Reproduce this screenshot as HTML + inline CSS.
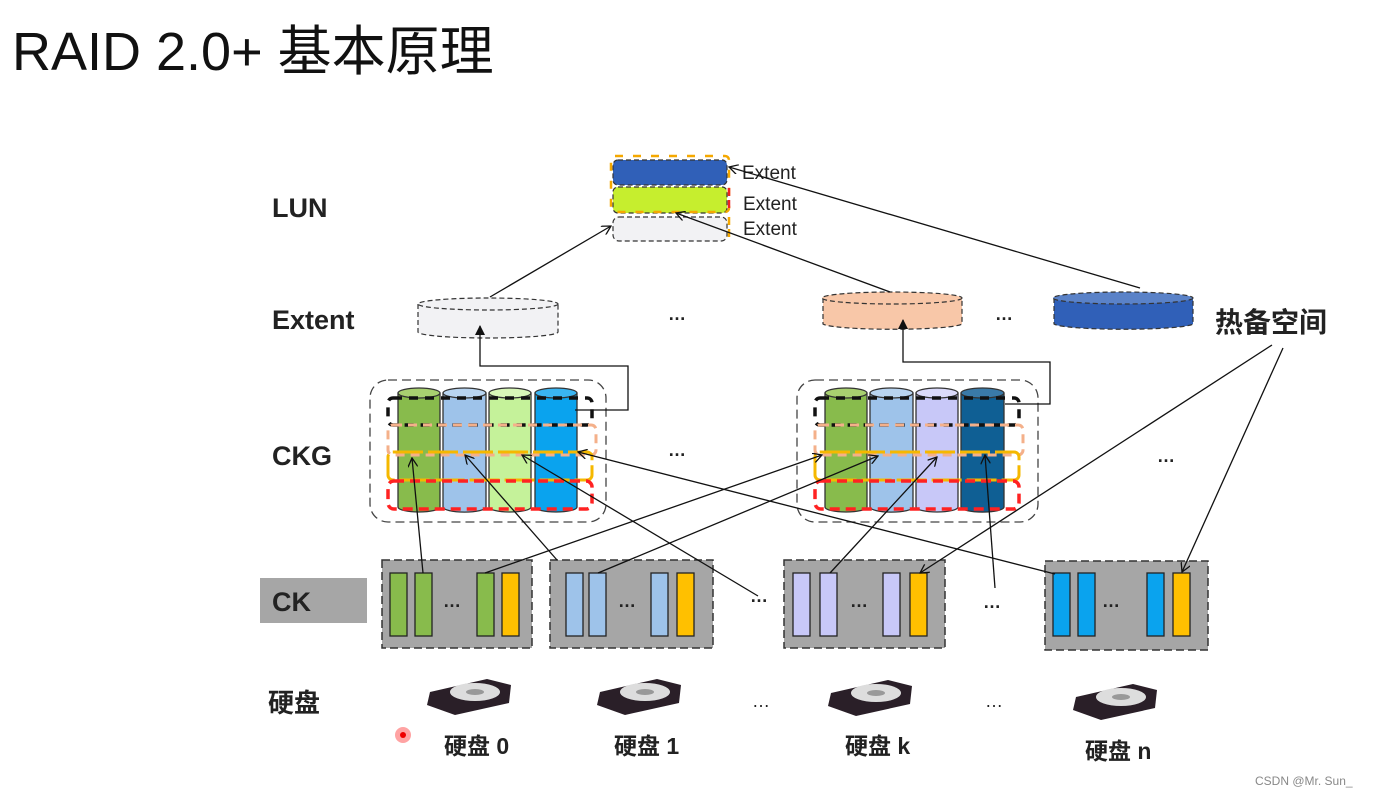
<!DOCTYPE html>
<html><head><meta charset="utf-8"><style>
html,body{margin:0;padding:0;background:#fff;}
svg{display:block;}
text{font-family:"Liberation Sans","Noto Sans CJK SC",sans-serif;fill:#222;}
.b{font-weight:bold;}
</style></head><body>
<svg width="1377" height="796" viewBox="0 0 1377 796" xmlns="http://www.w3.org/2000/svg">
<defs>
<marker id="oa" viewBox="0 0 10 10" refX="9" refY="5" markerWidth="10" markerHeight="10" orient="auto" markerUnits="userSpaceOnUse"><path d="M0,0 L9,5 L0,10" fill="none" stroke="#111" stroke-width="1.3"/></marker>
<marker id="fa" viewBox="0 0 10 10" refX="9" refY="5" markerWidth="10" markerHeight="10" orient="auto" markerUnits="userSpaceOnUse"><path d="M0,0 L10,5 L0,10 z" fill="#111"/></marker>
</defs>
<text x="12" y="70" font-size="54" style="fill:#111">RAID 2.0+ 基本原理</text>

<text x="272" y="217" font-size="27" class="b">LUN</text>
<text x="272" y="329" font-size="27" class="b">Extent</text>
<text x="272" y="465" font-size="27" class="b">CKG</text>
<rect x="260" y="578" width="107" height="45" fill="#a6a6a6"/>
<text x="272" y="611" font-size="27" class="b">CK</text>
<text x="268" y="712" font-size="26" class="b">硬盘</text>

<!-- LUN stack -->
<rect x="613" y="217" width="114" height="24" rx="6" fill="#f2f2f4" stroke="#333" stroke-dasharray="5,3" stroke-width="1.2"/>
<rect x="613" y="187" width="114" height="26" rx="5" fill="#c6ee2e" stroke="#333" stroke-dasharray="5,3" stroke-width="1.2"/>
<rect x="613" y="160" width="114" height="25" rx="5" fill="#3060b8" stroke="#333" stroke-dasharray="5,3" stroke-width="1.2"/>
<rect x="611" y="156" width="118" height="56" rx="4" fill="none" stroke="#f5a800" stroke-dasharray="8,10" stroke-width="2.5"/>
<line x1="729" y1="188" x2="729" y2="212" stroke="#e22" stroke-width="2.5" stroke-dasharray="8,4"/>
<line x1="729" y1="217" x2="729" y2="240" stroke="#f5a800" stroke-width="2.5" stroke-dasharray="8,4"/>
<text x="742" y="179" font-size="19">Extent</text>
<text x="743" y="210" font-size="19">Extent</text>
<text x="743" y="235" font-size="19">Extent</text>

<!-- Extents -->
<g stroke="#333" stroke-dasharray="5,3" stroke-width="1.2">
<path d="M418,304 v28 a70,6 0 0 0 140,0 v-28" fill="#f2f2f4"/>
<ellipse cx="488" cy="304" rx="70" ry="6" fill="#f2f2f4"/>
<path d="M823,298 v26 a70,6 0 0 0 139,0 v-26" fill="#f8c7a8"/>
<ellipse cx="892" cy="298" rx="70" ry="6" fill="#f8c7a8"/>
<path d="M1054,298 v26 a70,6 0 0 0 139,0 v-26" fill="#3060b8"/>
<ellipse cx="1123" cy="298" rx="70" ry="6" fill="#5a82c8"/>
</g>
<text x="668" y="320" font-size="18" class="b">…</text>
<text x="995" y="320" font-size="18" class="b">…</text>
<text x="1215" y="332" font-size="28" class="b">热备空间</text>

<!-- CKG left -->
<rect x="370" y="380" width="236" height="142" rx="18" fill="none" stroke="#444" stroke-dasharray="9,5" stroke-width="1.3"/>
<g stroke="#333" stroke-width="1.3">
<path d="M398,393 v114 a21,5 0 0 0 42,0 v-114" fill="#88bb4c"/><ellipse cx="419" cy="393" rx="21" ry="5" fill="#a8d070"/>
<path d="M443,393 v114 a21,5 0 0 0 43,0 v-114" fill="#9ec3ea"/><ellipse cx="464.5" cy="393" rx="21.5" ry="5" fill="#b8d4f0"/>
<path d="M489,393 v114 a21,5 0 0 0 42,0 v-114" fill="#c5f29a"/><ellipse cx="510" cy="393" rx="21" ry="5" fill="#d8f7b8"/>
<path d="M535,393 v114 a21,5 0 0 0 42,0 v-114" fill="#0aa3ee"/><ellipse cx="556" cy="393" rx="21" ry="5" fill="#3ab5f2"/>
</g>
<rect x="388" y="398" width="204" height="27" rx="5" fill="none" stroke="#111" stroke-width="3.5" stroke-dasharray="9,7"/>
<rect x="388" y="425" width="208" height="30" rx="5" fill="none" stroke="#f4b08a" stroke-width="3" stroke-dasharray="9,6"/>
<rect x="388" y="452" width="204" height="28" rx="5" fill="none" stroke="#f5b800" stroke-width="3" stroke-dasharray="30,5"/>
<rect x="388" y="481" width="204" height="28" rx="6" fill="none" stroke="#f22" stroke-width="3.5" stroke-dasharray="10,6"/>

<!-- CKG right -->
<rect x="797" y="380" width="241" height="142" rx="18" fill="none" stroke="#444" stroke-dasharray="9,5" stroke-width="1.3"/>
<g stroke="#333" stroke-width="1.3">
<path d="M825,393 v114 a21,5 0 0 0 42,0 v-114" fill="#88bb4c"/><ellipse cx="846" cy="393" rx="21" ry="5" fill="#a8d070"/>
<path d="M870,393 v114 a21,5 0 0 0 43,0 v-114" fill="#9ec3ea"/><ellipse cx="891.5" cy="393" rx="21.5" ry="5" fill="#b8d4f0"/>
<path d="M916,393 v114 a21,5 0 0 0 42,0 v-114" fill="#c8c8f8"/><ellipse cx="937" cy="393" rx="21" ry="5" fill="#dadafa"/>
<path d="M961,393 v114 a21,5 0 0 0 43,0 v-114" fill="#0f5f94"/><ellipse cx="982.5" cy="393" rx="21.5" ry="5" fill="#3a7aa8"/>
</g>
<rect x="815" y="398" width="204" height="27" rx="5" fill="none" stroke="#111" stroke-width="3.5" stroke-dasharray="9,7"/>
<rect x="815" y="425" width="208" height="30" rx="5" fill="none" stroke="#f4b08a" stroke-width="3" stroke-dasharray="9,6"/>
<rect x="815" y="452" width="204" height="28" rx="5" fill="none" stroke="#f5b800" stroke-width="3" stroke-dasharray="30,5"/>
<rect x="815" y="481" width="204" height="28" rx="6" fill="none" stroke="#f22" stroke-width="3.5" stroke-dasharray="10,6"/>
<text x="668" y="456" font-size="18" class="b">…</text>
<text x="1157" y="462" font-size="18" class="b">…</text>

<!-- CK boxes -->
<g stroke="#333" stroke-width="1.5" stroke-dasharray="8,4">
<rect x="382" y="560" width="150" height="88" fill="#a6a6a6"/>
<rect x="550" y="560" width="163" height="88" fill="#a6a6a6"/>
<rect x="784" y="560" width="161" height="88" fill="#a6a6a6"/>
<rect x="1045" y="561" width="163" height="89" fill="#a6a6a6"/>
</g>
<g stroke="#222" stroke-width="1.3">
<rect x="390" y="573" width="17" height="63" fill="#88bb4c"/><rect x="415" y="573" width="17" height="63" fill="#88bb4c"/>
<rect x="477" y="573" width="17" height="63" fill="#88bb4c"/><rect x="502" y="573" width="17" height="63" fill="#ffc000"/>
<rect x="566" y="573" width="17" height="63" fill="#9ec3ea"/><rect x="589" y="573" width="17" height="63" fill="#9ec3ea"/>
<rect x="651" y="573" width="17" height="63" fill="#9ec3ea"/><rect x="677" y="573" width="17" height="63" fill="#ffc000"/>
<rect x="793" y="573" width="17" height="63" fill="#c8c8f8"/><rect x="820" y="573" width="17" height="63" fill="#c8c8f8"/>
<rect x="883" y="573" width="17" height="63" fill="#c8c8f8"/><rect x="910" y="573" width="17" height="63" fill="#ffc000"/>
<rect x="1053" y="573" width="17" height="63" fill="#0aa3ee"/><rect x="1078" y="573" width="17" height="63" fill="#0aa3ee"/>
<rect x="1147" y="573" width="17" height="63" fill="#0aa3ee"/><rect x="1173" y="573" width="17" height="63" fill="#ffc000"/>
</g>
<g font-size="18" class="b">
<text x="443" y="607">…</text><text x="618" y="607">…</text><text x="850" y="607">…</text><text x="1102" y="607">…</text>
<text x="750" y="602">…</text><text x="983" y="608">…</text>
</g>

<!-- disks -->
<g>
<g transform="translate(425,675)"><path d="M5,17 L62,4 L86,10 L84,28 L30,40 L2,30 Z" fill="#2a1f28"/><ellipse cx="50" cy="17" rx="25" ry="9" fill="#ddd"/><ellipse cx="50" cy="17" rx="9" ry="3" fill="#999"/></g>
<g transform="translate(595,675)"><path d="M5,17 L62,4 L86,10 L84,28 L30,40 L2,30 Z" fill="#2a1f28"/><ellipse cx="50" cy="17" rx="25" ry="9" fill="#ddd"/><ellipse cx="50" cy="17" rx="9" ry="3" fill="#999"/></g>
<g transform="translate(826,676)"><path d="M5,17 L62,4 L86,10 L84,28 L30,40 L2,30 Z" fill="#2a1f28"/><ellipse cx="50" cy="17" rx="25" ry="9" fill="#ddd"/><ellipse cx="50" cy="17" rx="9" ry="3" fill="#999"/></g>
<g transform="translate(1071,680)"><path d="M5,17 L62,4 L86,10 L84,28 L30,40 L2,30 Z" fill="#2a1f28"/><ellipse cx="50" cy="17" rx="25" ry="9" fill="#ddd"/><ellipse cx="50" cy="17" rx="9" ry="3" fill="#999"/></g>
</g>
<text x="752" y="707" font-size="18">…</text>
<text x="985" y="707" font-size="18">…</text>
<g font-size="23" class="b">
<text x="444" y="754">硬盘 0</text><text x="614" y="754">硬盘 1</text><text x="845" y="754">硬盘 k</text><text x="1085" y="759">硬盘 n</text>
</g>
<circle cx="403" cy="735" r="8" fill="#f66" opacity="0.6"/><circle cx="403" cy="735" r="3" fill="#e00"/>

<!-- connectors -->
<g stroke="#111" stroke-width="1.3" fill="none">
<polyline points="575,410 628,410 628,366 480,366 480,326" marker-end="url(#fa)"/>
<polyline points="1005,404 1050,404 1050,362 903,362 903,320" marker-end="url(#fa)"/>
<line x1="490" y1="297" x2="611" y2="226" marker-end="url(#oa)"/>
<line x1="890" y1="292" x2="676" y2="213" marker-end="url(#oa)"/>
<line x1="1140" y1="288" x2="729" y2="167" marker-end="url(#oa)"/>
<line x1="423" y1="573" x2="412" y2="458" marker-end="url(#oa)"/>
<line x1="485" y1="573" x2="822" y2="455" marker-end="url(#oa)"/>
<line x1="557" y1="560" x2="465" y2="455" marker-end="url(#oa)"/>
<line x1="598" y1="573" x2="878" y2="456" marker-end="url(#oa)"/>
<line x1="758" y1="596" x2="522" y2="455" marker-end="url(#oa)"/>
<line x1="1055" y1="574" x2="578" y2="452" marker-end="url(#oa)"/>
<line x1="830" y1="573" x2="937" y2="457" marker-end="url(#oa)"/>
<line x1="995" y1="588" x2="985" y2="455" marker-end="url(#oa)"/>
<line x1="1272" y1="345" x2="920" y2="573" marker-end="url(#oa)"/>
<line x1="1283" y1="348" x2="1182" y2="572" marker-end="url(#oa)"/>
</g>
<text x="1255" y="785" font-size="12" style="fill:#888">CSDN @Mr. Sun_</text>
</svg>
</body></html>
